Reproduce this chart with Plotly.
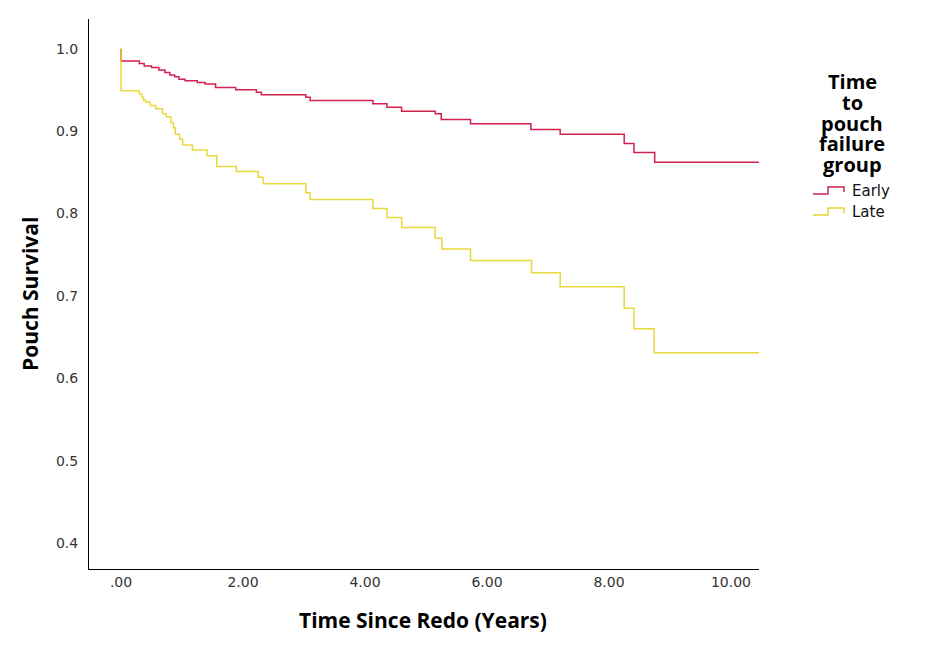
import plotly.graph_objects as go

# ---- data ----
early_t = [0.0, 0.0, 0.30, 0.38, 0.50, 0.62, 0.72, 0.80, 0.88, 0.95, 1.05, 1.25, 1.38, 1.55, 1.88,
           2.22, 2.30, 3.03, 3.10, 4.13, 4.36, 4.60, 5.15, 5.25, 5.73, 6.72, 7.20, 8.25, 8.41, 8.75, 10.46]
early_s = [1.0, 0.985, 0.982, 0.979, 0.977, 0.974, 0.971, 0.968, 0.966, 0.963, 0.961, 0.959, 0.957, 0.953, 0.950,
           0.947, 0.944, 0.941, 0.937, 0.933, 0.929, 0.924, 0.921, 0.914, 0.909, 0.902, 0.896, 0.885, 0.874, 0.862, 0.862]

late_t = [0.0, 0.0, 0.30, 0.34, 0.37, 0.41, 0.48, 0.57, 0.68, 0.74, 0.82, 0.86, 0.89, 0.96, 1.01, 1.17, 1.41, 1.57,
          1.89, 2.25, 2.33, 3.03, 3.10, 4.13, 4.36, 4.60, 5.15, 5.26, 5.73, 6.73, 7.20, 8.25, 8.41, 8.74, 10.46]
late_s = [1.0, 0.949, 0.945, 0.941, 0.937, 0.935, 0.931, 0.927, 0.921, 0.917, 0.910, 0.904, 0.896, 0.890, 0.883, 0.877, 0.870, 0.857,
          0.851, 0.844, 0.836, 0.825, 0.817, 0.806, 0.795, 0.783, 0.770, 0.757, 0.743, 0.728, 0.711, 0.685, 0.660, 0.631, 0.631]

x_tickvals = [0, 2, 4, 6, 8, 10]
x_ticktext = [".00", "2.00", "4.00", "6.00", "8.00", "10.00"]
y_tickvals = [0.4, 0.5, 0.6, 0.7, 0.8, 0.9, 1.0]

groups = ["Early", "Late"]
legend_title_lines = ["Time", "to", "pouch", "failure", "group"]
x_title = "Time Since Redo (Years)"
y_title = "Pouch Survival"

EARLY_C = "#d2204f"
LATE_C = "#e6d62a"

# page has an ~7px body offset; plot area in reference pixels is x 88..758, y 18..568
OFF = 7
W, H = 936, 660
L, R, T, B = 88, 758, 18, 568


def px(x):
    return (x - L) / (R - L)


def py(y):
    return (B - y) / (B - T)


fig = go.Figure()
fig.add_trace(go.Scatter(x=early_t, y=early_s, mode="lines", line=dict(shape="hv", color=EARLY_C, width=1.5),
                         name=groups[0], showlegend=False, hoverinfo="skip"))
fig.add_trace(go.Scatter(x=late_t, y=late_s, mode="lines", line=dict(shape="hv", color=LATE_C, width=1.5),
                         name=groups[1], showlegend=False, hoverinfo="skip", opacity=0.9))

shapes = []
annotations = []
TITLE_FONT = "Open Sans"
# legend title, one line each (tightly stacked as in the reference)
for i, line in enumerate(legend_title_lines):
    annotations.append(dict(x=px(851), y=py(81 + 20.5 * i), xref="paper", yref="paper",
                            xanchor="center", yanchor="middle", borderpad=0,
                            text="<b>" + line + "</b>", showarrow=False,
                            font=dict(family=TITLE_FONT, size=20, color="#000000")))
for i, (g, c) in enumerate(zip(groups, [EARLY_C, LATE_C])):
    yc = 190 + 21 * i
    x0, x1, x2 = px(812), px(827), px(843)
    ylo, yhi, yend = py(yc + 3), py(yc - 4), py(yc + 1)
    shapes.append(dict(type="path", xref="paper", yref="paper",
                       path=f"M {x0} {ylo} L {x1} {ylo} L {x1} {yhi} L {x2} {yhi} L {x2} {yend}",
                       line=dict(color=c, width=1.5)))
    annotations.append(dict(x=px(849), y=py(yc), xref="paper", yref="paper", xanchor="left", yanchor="middle",
                            text=g, showarrow=False,
                            font=dict(family="DejaVu Sans", size=15, color="#111111")))

# axis titles
annotations.append(dict(x=px(422), y=py(619), xref="paper", yref="paper", xanchor="center", yanchor="middle",
                        text="<b>" + x_title + "</b>", showarrow=False,
                        font=dict(family=TITLE_FONT, size=21, color="#000000")))
annotations.append(dict(x=px(29), y=py(293), xref="paper", yref="paper", xanchor="center", yanchor="middle",
                        text="<b>" + y_title + "</b>", showarrow=False, textangle=-90,
                        font=dict(family=TITLE_FONT, size=21, color="#000000")))

fig.update_layout(
    width=W, height=H,
    margin=dict(l=L - OFF, r=W - (R - OFF), t=T - OFF, b=H - (B - OFF)),
    paper_bgcolor="white", plot_bgcolor="white",
    shapes=shapes, annotations=annotations,
    showlegend=False,
)
fig.update_xaxes(range=[-0.525, 10.46], tickvals=x_tickvals, ticktext=x_ticktext,
                 showgrid=False, zeroline=False, showline=True, linecolor="black", linewidth=1,
                 ticks="", ticklabelstandoff=0,
                 tickfont=dict(family="DejaVu Sans", size=14, color="#333333"))
fig.update_yaxes(range=[0.3685, 1.036], tickvals=y_tickvals, tickformat=".1f",
                 showgrid=False, zeroline=False, showline=True, linecolor="black", linewidth=1,
                 ticks="", ticklabelstandoff=7,
                 tickfont=dict(family="DejaVu Sans", size=14, color="#333333"))

fig.write_html("out.html")
